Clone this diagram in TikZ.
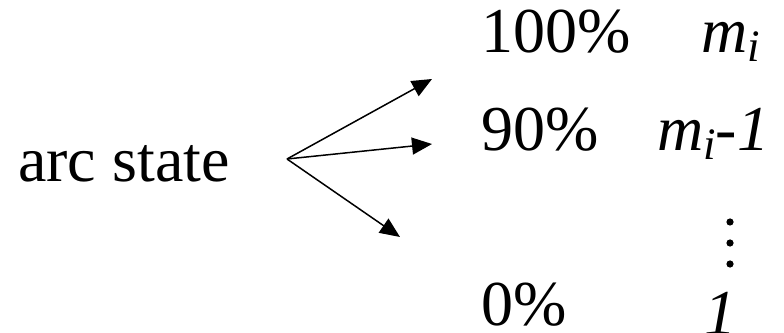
\documentclass[tikz,border=0pt]{standalone}
\usepackage{fontspec}
\setmainfont{Liberation Serif}
\usetikzlibrary{arrows.meta}

\newcommand{\bigtext}{\fontsize{64}{72}\selectfont}
\newcommand{\subidx}[1]{\raisebox{-9pt}{\fontsize{45}{45}\selectfont\itshape #1}}

\begin{document}
\begin{tikzpicture}[x=1pt,y=1pt,
    lbl/.style={anchor=base west,inner sep=0pt,text depth=0pt,font=\bigtext},
    arr/.style={line width=1.5pt,-{Triangle[length=20pt,width=17pt]}}]

    \useasboundingbox (0,0) rectangle (784,332);

    % Left label and fork point
    \node[lbl] (state) at (18,150) {arc state};
    \coordinate (fork) at (287,173);

    % Arrow ends
    \coordinate (tip100) at (432,253);
    \coordinate (tip90) at (432,188);
    \coordinate (tiplow) at (400,95);

    % Percentages
    \node[lbl] (p100) at (481,279) {100\%};
    \node[lbl] (p90) at (481,181) {90\%};
    \node[lbl] (p0) at (481,7) {0\%};

    % Values
    \node[lbl] (m100) at (701,279) {\textit{m}\subidx{i}};
    \node[lbl] (m90) at (657,181) {\textit{m}\subidx{i}\textit{-1}};
    \node[lbl] (m0) at (704,-2) {\textit{1}};

    % Dots
    \foreach \y/\n in {110/a,89/b,68/c}
        \fill (730,\y) circle (3.6pt) coordinate (dot\n);

    % Arrows
    \draw[arr] (fork) -- (tip100);
    \draw[arr] (fork) -- (tip90);
    \draw[arr] (fork) -- (tiplow);

\end{tikzpicture}
\end{document}
